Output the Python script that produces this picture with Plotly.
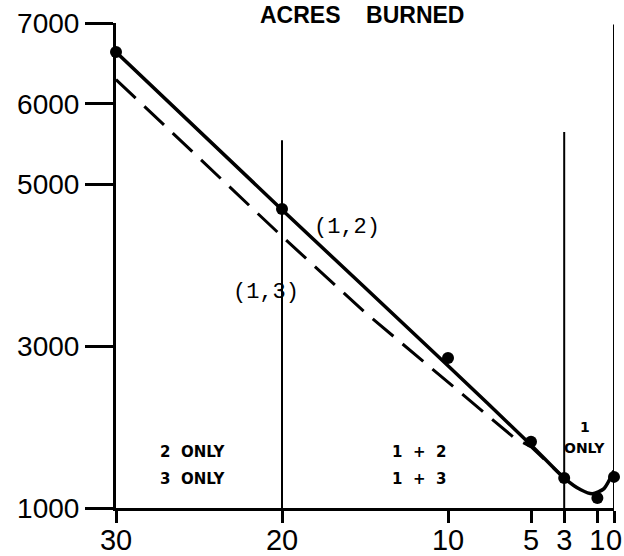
import plotly.graph_objects as go

# ---- data ----
x_ticks = [30, 20, 10, 5, 3, 1, 0]
y_ticks = [1000, 3000, 5000, 6000, 7000]

obs_x = [30, 20, 10, 5, 3, 1, 0]
obs_y = [6640, 4700, 2855, 1820, 1370, 1125, 1385]

solid_x = [30, 20, 10, 5, 3, 2, 1.3, 0.6, 0]
solid_y = [6640, 4690, 2760, 1780, 1370, 1225, 1175, 1240, 1460]

dash_x = [30, 20, 15, 6, 5, 4, 3]
dash_y = [6300, 4360, 3420, 1866, 1760, 1560, 1370]

divider_x = [20, 3, 0]
divider_top = [5550, 5650, 6980]

label_pairs = ["(1,2)", "(1,3)"]
label_pairs_x = [16.1, 20.96]
label_pairs_y = [4464, 3660]

region_text = ["2\u00a0\u00a0ONLY", "3\u00a0\u00a0ONLY", "1\u00a0 +\u00a0 2", "1\u00a0 +\u00a0 3", "1", "ONLY"]
region_x = [25.4, 25.4, 11.75, 11.75, 1.75, 1.75]
region_y = [1693, 1359, 1693, 1359, 2002, 1742]

title_text = "ACRES\u00a0\u00a0\u00a0\u00a0BURNED"

fig = go.Figure()

for dx, dt in zip(divider_x, divider_top):
    fig.add_trace(go.Scatter(x=[dx, dx], y=[1000, dt], mode="lines",
                             line=dict(color="black", width=2),
                             showlegend=False, cliponaxis=False, hoverinfo="skip"))

fig.add_trace(go.Scatter(x=dash_x, y=dash_y, mode="lines",
                         line=dict(color="black", width=3, dash="27px,12px"),
                         showlegend=False, cliponaxis=False))

fig.add_trace(go.Scatter(x=solid_x, y=solid_y, mode="lines",
                         line=dict(color="black", width=3.5, shape="spline", smoothing=0.6),
                         showlegend=False, cliponaxis=False))

fig.add_trace(go.Scatter(x=obs_x, y=obs_y, mode="markers",
                         marker=dict(color="black", size=12),
                         showlegend=False, cliponaxis=False))

for t, x, y in zip(label_pairs, label_pairs_x, label_pairs_y):
    fig.add_annotation(x=x, y=y, text=t, showarrow=False,
                       font=dict(family="Liberation Mono", size=22, color="black"))

for i, (t, x, y) in enumerate(zip(region_text, region_x, region_y)):
    fig.add_annotation(x=x, y=y, text=t, showarrow=False,
                       font=dict(family="DejaVu Sans", size=15 if i < 4 else 14,
                                 color="black", weight="bold"))

fig.add_annotation(xref="paper", yref="paper", x=0.494, y=1.047, text=title_text,
                   showarrow=False, yanchor="top",
                   font=dict(family="Liberation Sans", size=23, color="black", weight="bold"))

fig.update_xaxes(range=[30, 0], tickvals=x_ticks, ticktext=[str(v) for v in x_ticks],
                 tickangle=0, automargin=False, ticklabelstandoff=-8,
                 showgrid=False, zeroline=False, showline=True, linecolor="black", linewidth=3,
                 ticks="outside", ticklen=12, tickwidth=2.5, tickcolor="black",
                 tickfont=dict(family="Liberation Sans", size=29, color="black"))
fig.update_yaxes(range=[1000, 7000], tickvals=y_ticks, ticktext=[str(v) for v in y_ticks],
                 automargin=False,
                 showgrid=False, zeroline=False, showline=True, linecolor="black", linewidth=3,
                 ticks="outside", ticklen=28, tickwidth=3, tickcolor="black",
                 tickfont=dict(family="Liberation Sans", size=28, color="black"))

fig.update_layout(width=624, height=556, margin=dict(l=116, r=10, t=23, b=48),
                  plot_bgcolor="white", paper_bgcolor="white")

fig.write_html("out.html")
